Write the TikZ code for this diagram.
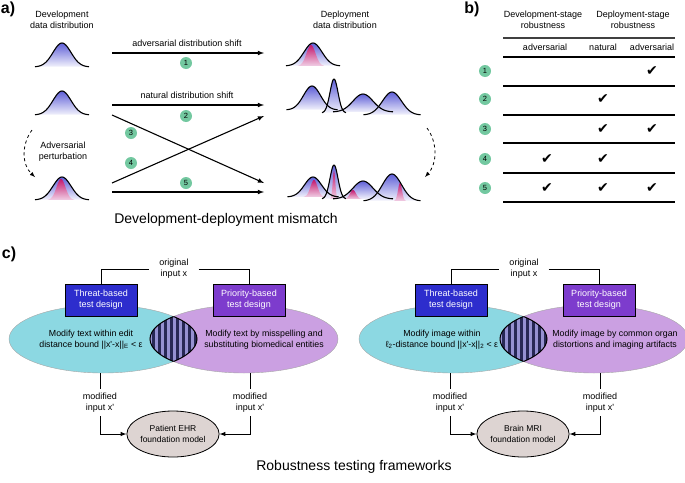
\documentclass[tikz,border=0pt]{standalone}
\usepackage{fontspec}
\setmainfont{Liberation Sans}
\newfontfamily\checkfont{DejaVu Sans}
\usepackage{tikz}
\usetikzlibrary{arrows}
\usetikzlibrary{shapes}
\usetikzlibrary{positioning}

\definecolor{bumpblue}{RGB}{95,95,215}
\definecolor{bumpwhite}{RGB}{242,242,252}
\definecolor{bumppink}{RGB}{195,25,110}
\definecolor{bumplight}{RGB}{240,205,228}
\definecolor{numgreen}{RGB}{115,200,160}
\definecolor{venncyan}{RGB}{140,216,226}
\definecolor{vennpurple}{RGB}{203,160,226}
\definecolor{threatblue}{RGB}{45,45,205}
\definecolor{prioritypurple}{RGB}{125,60,205}
\definecolor{modelgray}{RGB}{221,212,210}
\definecolor{stripedark}{RGB}{40,40,85}
\definecolor{stripelight}{RGB}{150,145,210}

\tikzset{
  smalltext/.style={font=\fontsize{9}{11}\selectfont,align=center,inner sep=0.75pt},
  num/.style={circle,fill=numgreen,inner sep=0pt,minimum size=12pt,font=\fontsize{7.5}{7.5}\selectfont},
  shift arrow/.style={-latex,line width=1.1pt},
  bump edge/.style={line width=1.1pt,line join=round},
  blue bump/.style={top color=bumpblue,bottom color=bumpwhite},
  pink bump/.style={top color=bumppink,bottom color=bumplight},
  tablerule/.style={line width=1.2pt},
  checkmark/.style={font=\checkfont\fontsize{14}{14}\selectfont,inner sep=0pt},
  design/.style={draw,line width=0.8pt,text=white,minimum width=72pt,minimum height=32pt,font=\fontsize{9}{11}\selectfont,align=center},
  link/.style={line width=1pt},
  venn/.style={ellipse,minimum width=188pt,minimum height=68pt,draw=black!35,line width=0.4pt},
  fmodel/.style={ellipse,draw,line width=0.8pt,fill=modelgray,minimum width=90pt,minimum height=46pt,font=\fontsize{8.5}{11}\selectfont,align=center,inner sep=0pt},
  bigcaption/.style={font=\fontsize{14}{16}\selectfont},
  panel/.style={font=\bfseries\fontsize{16}{16}\selectfont}
}

% a bump: centre, base line, height, spread
\newcommand{\bumpfill}[5]{\shade[#5] plot[domain=-3:3,samples=41,smooth] ({#1+(\x)*#4},{#2-#3*exp(-((\x)*(\x))/2)}) -- cycle;}
\newcommand{\bumpdraw}[4]{\draw[bump edge] plot[domain=-3:3,samples=41,smooth] ({#1+(\x)*#4},{#2-#3*exp(-((\x)*(\x))/2)});}

\begin{document}
\begin{tikzpicture}[x=1pt,y=1pt,yscale=-1,xscale=1]
\useasboundingbox (0,0) rectangle (685,482);

% Panel labels
\node[panel] (pa) at (8,9) {a)};
\node[panel] (pb) at (472,9) {b)};
\node[panel] (pc) at (9,254) {c)};

% Text Node
\node[smalltext] (devhead) at (62,19.5) {Development\\data distribution};
% Text Node
\node[smalltext] (dephead) at (345,19.5) {Deployment\\data distribution};

%Shape: development bumps
\bumpfill{62}{67}{24}{9}{blue bump}
\bumpdraw{62}{67}{24}{9}
\bumpfill{62}{115}{24}{9}{blue bump}
\bumpdraw{62}{115}{24}{9}
\bumpfill{62}{200}{23}{9}{blue bump}
\bumpfill{61}{200}{21}{4.5}{pink bump}
\bumpdraw{62}{200}{23}{9}

%Shape: deployment bumps, row 1
\bumpfill{313}{66}{23}{9}{blue bump}
\bumpfill{311}{66}{21}{4.5}{pink bump}
\bumpdraw{313}{66}{23}{9}

%Shape: deployment bumps, row 2
\bumpfill{312}{110}{24}{8.5}{blue bump}
\bumpfill{334}{113}{34}{4}{blue bump}
\bumpfill{363}{112}{18}{10}{blue bump}
\bumpfill{392}{115}{23}{9.5}{blue bump}
\bumpdraw{312}{110}{24}{8.5}
\bumpdraw{334}{113}{34}{4}
\bumpdraw{363}{112}{18}{10}
\bumpdraw{392}{115}{23}{9.5}

%Shape: deployment bumps, row 3
\bumpfill{313}{197}{20}{8.5}{blue bump}
\bumpfill{334}{199}{34}{4}{blue bump}
\bumpfill{363}{199}{18}{10}{blue bump}
\bumpfill{392}{201}{27}{9.5}{blue bump}
\bumpfill{314}{197}{17}{3.5}{pink bump}
\bumpfill{334}{199}{28}{1.3}{pink bump}
\bumpfill{353}{199}{9}{3}{pink bump}
\bumpfill{400}{201}{18}{2}{pink bump}
\bumpdraw{313}{197}{20}{8.5}
\bumpdraw{334}{199}{34}{4}
\bumpdraw{363}{199}{18}{10}
\bumpdraw{392}{201}{27}{9.5}

% shift arrows
\coordinate (s1) at (112,53);  \coordinate (e1) at (264,53);
\coordinate (s2) at (112,105); \coordinate (e2) at (264,105);
\coordinate (s3) at (112,115); \coordinate (e3) at (264,183);
\coordinate (s4) at (112,183); \coordinate (e4) at (264,116);
\coordinate (s5) at (112,192); \coordinate (e5) at (264,192);
\foreach \k in {1,...,5} \draw[shift arrow] (s\k) -- (e\k);

% Text Node
\node[smalltext] (advshift) at (187,43) {adversarial distribution shift};
% Text Node
\node[smalltext] (natshift) at (187,95) {natural distribution shift};

\node[num] (n1) at (186,63) {1};
\node[num] (n2) at (186,116) {2};
\node[num] (n3) at (131,133) {3};
\node[num] (n4) at (131,163) {4};
\node[num] (n5) at (186,183) {5};

% perturbation arrows
\coordinate (p1) at (32,130);  \coordinate (p2) at (35,177);
\draw[dashed,-latex,line width=0.8pt] (p1) .. controls (21,145) and (22,165) .. (p2);
\coordinate (q1) at (427,128); \coordinate (q2) at (425,177);
\draw[dashed,-latex,line width=0.8pt] (q1) .. controls (438,143) and (437,164) .. (q2);
% Text Node
\node[smalltext] (advpert) at (63,151.5) {Adversarial\\perturbation};

\node[bigcaption] (capa) at (226,220) {Development-deployment mismatch};

% Panel b: table
\node[smalltext] (hdev) at (543,19.5) {Development-stage\\robustness};
\node[smalltext] (hdep) at (633,19.5) {Deployment-stage\\robustness};
\draw[line width=2pt,black!75] (503,38) -- (675,38);
\foreach \y in {57,86,115,143,173,202} \draw[tablerule] (503,\y) -- (675,\y);
\node[smalltext] (sadv) at (545,47) {adversarial};
\node[smalltext] (snat) at (603,47) {natural};
\node[smalltext] (sadvb) at (652,47) {adversarial};
\foreach \k/\y in {1/71,2/99,3/129,4/159,5/188} \node[num] (r\k) at (485,\y) {\k};
\foreach \x/\y in {652/71,603/99,603/129,652/129,547/159,603/159,547/188,603/188,652/188}
  \node[checkmark] (ck\x\y) at (\x,\y) {✔};

% Panel c: two testing frameworks
\foreach \dx/\s/\mdl in {0/L/Patient EHR,350/R/Brain MRI}{
  %Shape: Ellipse
  \node[venn,fill=venncyan] (thr\s) at ({103+\dx},339) {};
  %Shape: Ellipse
  \node[venn,fill=vennpurple] (pri\s) at ({244+\dx},339) {};
  % overlap
  \begin{scope}
    \clip ({103+\dx},339) ellipse [x radius=94,y radius=34];
    \clip ({244+\dx},339) ellipse [x radius=94,y radius=34];
    \fill[stripelight] ({140+\dx},300) rectangle ({210+\dx},380);
    \foreach \k in {0,...,11} \fill[stripedark] ({146+\dx+6*\k},300) rectangle ++(3,80);
  \end{scope}
  \begin{scope}
    \clip ({103+\dx},339) ellipse [x radius=94,y radius=34];
    \draw[line width=1pt] ({244+\dx},339) ellipse [x radius=94,y radius=34];
  \end{scope}
  \begin{scope}
    \clip ({244+\dx},339) ellipse [x radius=94,y radius=34];
    \draw[line width=1pt] ({103+\dx},339) ellipse [x radius=94,y radius=34];
  \end{scope}
  %Shape: Rectangle
  \node[design,fill=threatblue] (threat\s) at ({101+\dx},300) {Threat-based\\test design};
  %Shape: Rectangle
  \node[design,fill=prioritypurple] (prior\s) at ({249+\dx},300) {Priority-based\\test design};
  % Text Node
  \node[smalltext,inner xsep=10pt] (orig\s) at ({174+\dx},269) {original\\input x};
  \draw[link] (threat\s.north) |- (orig\s.west);
  \draw[link] (orig\s.east) -| (prior\s.north);
  % Text Node
  \node[smalltext,inner ysep=4pt] (modA\s) at ({100+\dx},402.5) {modified\\input x\textquotesingle};
  % Text Node
  \node[smalltext,inner ysep=4pt] (modB\s) at ({250+\dx},402.5) {modified\\input x\textquotesingle};
  %Shape: Ellipse
  \node[fmodel] (fm\s) at ({173+\dx},434) {\mdl\\foundation model};
  \draw[link] (thr\s.south -| modA\s) -- (modA\s.north);
  \draw[link] (pri\s.south -| modB\s) -- (modB\s.north);
  \draw[link,-latex] (modA\s.south) |- (fm\s.west);
  \draw[link,-latex] (modB\s.south) |- (fm\s.east);
}

% Text Node
\node[smalltext,font=\fontsize{8.8}{11}\selectfont] (tthrL) at (91,339.5) {Modify text within edit\\distance bound ||x\textquotesingle-x||\textsubscript{E} < ε};
% Text Node
\node[smalltext,font=\fontsize{8.8}{11}\selectfont] (tpriL) at (264,339.5) {Modify text by misspelling and\\substituting biomedical entities};
% Text Node
\node[smalltext,font=\fontsize{8.8}{11}\selectfont] (tthrR) at (442,339.5) {Modify image within\\ℓ\textsubscript{2}-distance bound ||x\textquotesingle-x||\textsubscript{2} < ε};
% Text Node
\node[smalltext,font=\fontsize{8.8}{11}\selectfont] (tpriR) at (615,339.5) {Modify image by common organ\\distortions and imaging artifacts};

\node[bigcaption] (capc) at (354,467) {Robustness testing frameworks};

\end{tikzpicture}
\end{document}
